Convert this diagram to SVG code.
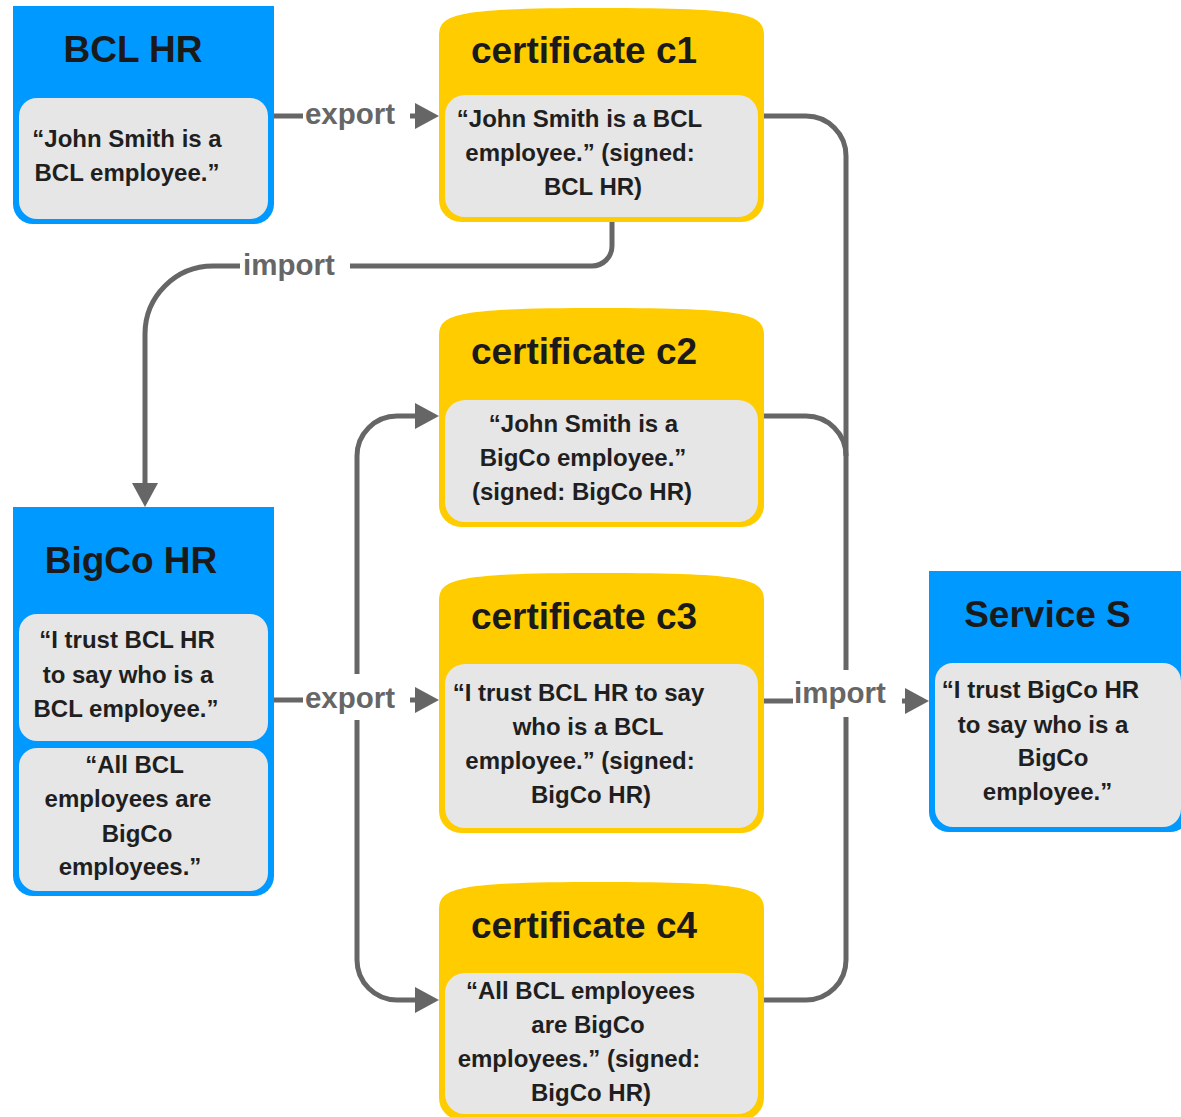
<svg xmlns="http://www.w3.org/2000/svg" width="1181" height="1117" viewBox="0 0 1181 1117">
<style>
text{font-family:"Liberation Sans",Arial,sans-serif;font-weight:bold}
.blue{fill:#0099FF}
.yel{fill:#FFCC00}
.gray{fill:#E6E6E6}
.title{font-size:37px;fill:#1a1a1a;text-anchor:middle}
.body{font-size:24px;fill:#1f1f1f;text-anchor:middle}
.lbl{font-size:29.5px;fill:#666666;text-anchor:middle}
.con{fill:none;stroke:#666666;stroke-width:5}
</style>
<defs>
<marker id="arr" markerUnits="userSpaceOnUse" markerWidth="24" markerHeight="26" refX="0" refY="13" orient="auto" viewBox="0 0 24 26">
<path d="M0,0 L24,13 L0,26 Z" fill="#666666"/>
</marker>
</defs>
<rect width="1181" height="1117" fill="#ffffff"/>

<g id="connectors">
<path class="con" d="M274 116 H303 M410 116 H415" marker-end="url(#arr)"/>
<path class="con" d="M612 222 V246 A20 20 0 0 1 592 266 H350 M240 266 H213 A68 68 0 0 0 145 334 V483" marker-end="url(#arr)"/>
<path class="con" d="M274 700 H303 M410 700 H415" marker-end="url(#arr)"/>
<path class="con" d="M357 674 V456 A40 40 0 0 1 397 416 H415" marker-end="url(#arr)"/>
<path class="con" d="M357 720 V960 A40 40 0 0 0 397 1000 H415" marker-end="url(#arr)"/>
<path class="con" d="M764 116 H806 A40 40 0 0 1 846 156 V670"/>
<path class="con" d="M764 416 H806 A40 40 0 0 1 846 456"/>
<path class="con" d="M764 1000 H806 A40 40 0 0 0 846 960 V717"/>
<path class="con" d="M764 701 H793 M902 701 H905" marker-end="url(#arr)"/>
<text class="lbl" x="350" y="124">export</text>
<text class="lbl" x="289" y="275">import</text>
<text class="lbl" x="350" y="708">export</text>
<text class="lbl" x="840" y="703">import</text>
</g>

<g id="bcl-hr">
<path class="blue" d="M13 6 H274 V204 A20 20 0 0 1 254 224 H33 A20 20 0 0 1 13 204 Z"/>
<rect class="gray" x="19" y="98" width="249" height="121" rx="18"/>
<text class="title" x="133" y="62">BCL HR</text>
<text class="body" x="127" y="147">“John Smith is a</text>
<text class="body" x="127" y="181">BCL employee.”</text>
</g>

<g id="cert-c1">
<path class="yel" d="M439 36 C439 14 455 8 601.5 8 C748 8 764 14 764 36 V200 A22 22 0 0 1 742 222 H461 A22 22 0 0 1 439 200 Z"/>
<rect class="gray" x="445" y="95" width="313" height="122" rx="20"/>
<text class="title" x="584" y="63">certificate c1</text>
<text class="body" x="579.5" y="127">“John Smith is a BCL</text>
<text class="body" x="580" y="161">employee.” (signed:</text>
<text class="body" x="593" y="195">BCL HR)</text>
</g>

<g id="cert-c2">
<path class="yel" d="M439 336 C439 314 455 308 601.5 308 C748 308 764 314 764 336 V505 A22 22 0 0 1 742 527 H461 A22 22 0 0 1 439 505 Z"/>
<rect class="gray" x="445" y="400" width="313" height="122" rx="20"/>
<text class="title" x="584" y="364">certificate c2</text>
<text class="body" x="583.5" y="432">“John Smith is a</text>
<text class="body" x="583" y="466">BigCo employee.”</text>
<text class="body" x="582" y="500">(signed: BigCo HR)</text>
</g>

<g id="cert-c3">
<path class="yel" d="M439 601 C439 579 455 573 601.5 573 C748 573 764 579 764 601 V811 A22 22 0 0 1 742 833 H461 A22 22 0 0 1 439 811 Z"/>
<rect class="gray" x="445" y="664" width="313" height="164" rx="20"/>
<text class="title" x="584" y="629">certificate c3</text>
<text class="body" x="578.5" y="701">“I trust BCL HR to say</text>
<text class="body" x="588" y="735">who is a BCL</text>
<text class="body" x="580" y="769">employee.” (signed:</text>
<text class="body" x="591" y="803">BigCo HR)</text>
</g>

<g id="cert-c4">
<path class="yel" d="M439 910 C439 888 455 882 601.5 882 C748 882 764 888 764 910 V1098 A22 22 0 0 1 742 1120 H461 A22 22 0 0 1 439 1098 Z"/>
<rect class="gray" x="445" y="973" width="313" height="141" rx="20"/>
<text class="title" x="584" y="938">certificate c4</text>
<text class="body" x="580.5" y="999">“All BCL employees</text>
<text class="body" x="588" y="1033">are BigCo</text>
<text class="body" x="579" y="1067">employees.” (signed:</text>
<text class="body" x="591" y="1101">BigCo HR)</text>
</g>

<g id="bigco-hr">
<path class="blue" d="M13 507 H274 V876 A20 20 0 0 1 254 896 H33 A20 20 0 0 1 13 876 Z"/>
<rect class="gray" x="19" y="614" width="249" height="127" rx="18"/>
<rect class="gray" x="19" y="748" width="249" height="143" rx="18"/>
<text class="title" x="131" y="573">BigCo HR</text>
<text class="body" x="127" y="648">“I trust BCL HR</text>
<text class="body" x="128" y="683">to say who is a</text>
<text class="body" x="126" y="717">BCL employee.”</text>
<text class="body" x="134.5" y="773">“All BCL</text>
<text class="body" x="128" y="807">employees are</text>
<text class="body" x="137" y="842">BigCo</text>
<text class="body" x="130" y="875">employees.”</text>
</g>

<g id="service-s">
<path class="blue" d="M929 571 H1190 V812 A20 20 0 0 1 1170 832 H949 A20 20 0 0 1 929 812 Z"/>
<rect class="gray" x="935" y="663" width="246" height="164" rx="18"/>
<text class="title" x="1047.5" y="627">Service S</text>
<text class="body" x="1040.5" y="698">“I trust BigCo HR</text>
<text class="body" x="1043" y="733">to say who is a</text>
<text class="body" x="1053" y="766">BigCo</text>
<text class="body" x="1047.5" y="800">employee.”</text>
</g>
</svg>
